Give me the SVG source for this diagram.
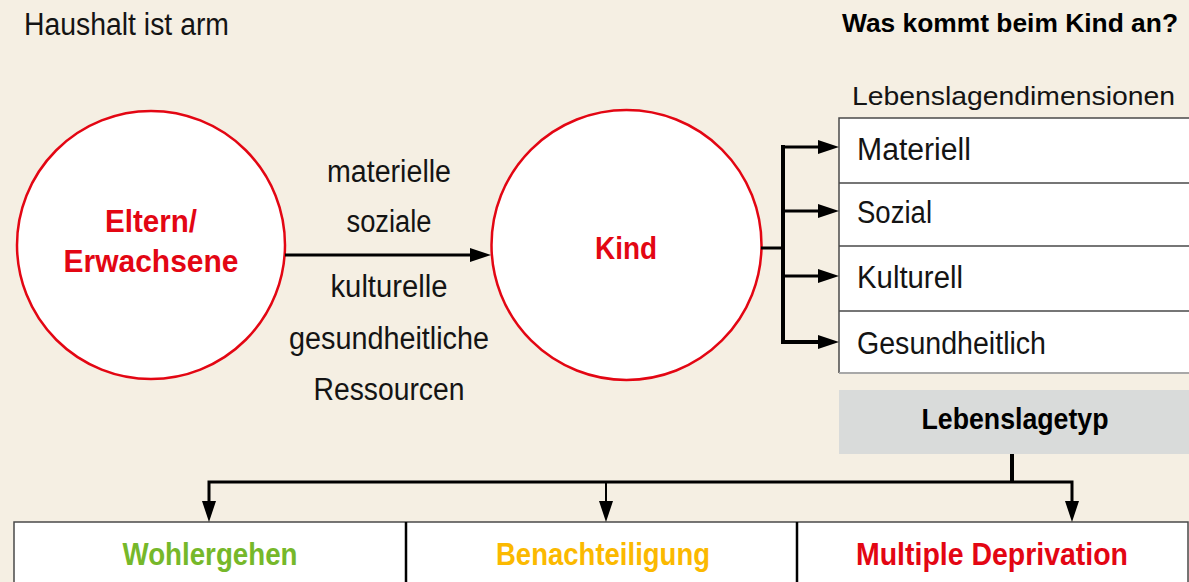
<svg xmlns="http://www.w3.org/2000/svg" width="1189" height="582" viewBox="0 0 1189 582">
<style>
.reg{font-family:"Liberation Sans",Arial,sans-serif;fill:#141414}
.bold{font-family:"Liberation Sans",Arial,sans-serif;font-weight:bold}
.circle{fill:#fff;stroke:#e30613;stroke-width:2.5}
.red{fill:#e30613}
.conn{fill:none;stroke:#000;stroke-linejoin:miter}
.cell{fill:#fff;stroke:none}
.bd{stroke:#4a4a4a;stroke-width:1.5;fill:none}
</style>
<defs>
<marker id="ah" viewBox="0 -7 21 14" markerWidth="21" markerHeight="14" refX="1" refY="0" orient="auto-start-reverse" markerUnits="userSpaceOnUse">
<path d="M0,-7 L21,0 L0,7 z" fill="#000"/>
</marker>
</defs>
<rect x="0" y="0" width="1189" height="582" fill="#f5efe3"/>

<g id="title-left">
<text class="reg" x="24" y="35" font-size="31" textLength="205" lengthAdjust="spacingAndGlyphs">Haushalt ist arm</text>
</g>
<g id="title-right">
<text class="bold" x="842" y="32" font-size="25" fill="#000" textLength="336" lengthAdjust="spacingAndGlyphs">Was kommt beim Kind an?</text>
</g>

<g id="eltern">
<circle class="circle" cx="151" cy="245" r="134"/>
<text class="bold red" x="151" y="232" font-size="32" text-anchor="middle" textLength="92" lengthAdjust="spacingAndGlyphs">Eltern/</text>
<text class="bold red" x="151" y="272" font-size="32" text-anchor="middle" textLength="175" lengthAdjust="spacingAndGlyphs">Erwachsene</text>
</g>

<g id="ressourcen">
<text class="reg" x="389" y="182" font-size="31" text-anchor="middle" textLength="124" lengthAdjust="spacingAndGlyphs">materielle</text>
<text class="reg" x="389" y="232" font-size="31" text-anchor="middle" textLength="85" lengthAdjust="spacingAndGlyphs">soziale</text>
<text class="reg" x="389" y="297" font-size="31" text-anchor="middle" textLength="117" lengthAdjust="spacingAndGlyphs">kulturelle</text>
<text class="reg" x="389" y="349" font-size="31" text-anchor="middle" textLength="200" lengthAdjust="spacingAndGlyphs">gesundheitliche</text>
<text class="reg" x="389" y="400" font-size="31" text-anchor="middle" textLength="151" lengthAdjust="spacingAndGlyphs">Ressourcen</text>
</g>

<g id="kind">
<circle class="circle" cx="626.5" cy="245" r="135"/>
<text class="bold red" x="626" y="259" font-size="32" text-anchor="middle" textLength="62" lengthAdjust="spacingAndGlyphs">Kind</text>
</g>

<g id="dimensionen">
<text class="reg" x="852" y="105" font-size="26" textLength="323" lengthAdjust="spacingAndGlyphs">Lebenslagendimensionen</text>
<rect class="cell" x="839" y="118" width="352" height="255"/>
<path class="bd" d="M1191,118 H839 V373 M839,183 H1191 M839,246 H1191 M839,311 H1191"/>
<path d="M839,373 H1191" stroke="#a8a8a8" stroke-width="2" fill="none"/>
<text class="reg" x="857" y="160" font-size="31" textLength="114" lengthAdjust="spacingAndGlyphs">Materiell</text>
<text class="reg" x="857" y="223" font-size="31" textLength="75" lengthAdjust="spacingAndGlyphs">Sozial</text>
<text class="reg" x="857" y="288" font-size="31" textLength="106" lengthAdjust="spacingAndGlyphs">Kulturell</text>
<text class="reg" x="857" y="354" font-size="31" textLength="189" lengthAdjust="spacingAndGlyphs">Gesundheitlich</text>
</g>

<g id="lebenslagetyp">
<rect x="839" y="390" width="352" height="64" fill="#d9dbda"/>
<text class="bold" x="1015" y="429" font-size="30" fill="#000" text-anchor="middle" textLength="187" lengthAdjust="spacingAndGlyphs">Lebenslagetyp</text>
</g>

<g id="typen">
<rect x="14" y="522" width="1174" height="70" fill="#fff"/>
<path d="M14,592 V522 H1188 V592" stroke="#4a4a4a" stroke-width="1.5" fill="none"/>
<path d="M406,522 V592 M797,522 V592" stroke="#000" stroke-width="2.5" fill="none"/>
<text class="bold" x="210" y="565" font-size="32" fill="#76b82a" text-anchor="middle" textLength="175" lengthAdjust="spacingAndGlyphs">Wohlergehen</text>
<text class="bold" x="603" y="565" font-size="32" fill="#fbb900" text-anchor="middle" textLength="214" lengthAdjust="spacingAndGlyphs">Benachteiligung</text>
<text class="bold" x="992" y="565" font-size="32" fill="#e30613" text-anchor="middle" textLength="272" lengthAdjust="spacingAndGlyphs">Multiple Deprivation</text>
</g>

<g id="connectors">
<path class="conn" stroke-width="3" d="M285,255 H471" marker-end="url(#ah)"/>
<path class="conn" stroke-width="3" d="M761,248 H783"/>
<path class="conn" stroke-width="4" d="M783,145 V344"/>
<path class="conn" stroke-width="3" d="M783,147 H819" marker-end="url(#ah)"/>
<path class="conn" stroke-width="3" d="M783,211 H819" marker-end="url(#ah)"/>
<path class="conn" stroke-width="3" d="M783,276 H819" marker-end="url(#ah)"/>
<path class="conn" stroke-width="4" d="M781,342 H819" marker-end="url(#ah)"/>
<path class="conn" stroke-width="4" d="M1012,454 V482"/>
<path class="conn" stroke-width="3" d="M209,502 V482 H1072 V502" marker-start="url(#ah)" marker-end="url(#ah)"/>
<path class="conn" stroke-width="2" d="M606,482 V502" marker-end="url(#ah)"/>
</g>
</svg>
